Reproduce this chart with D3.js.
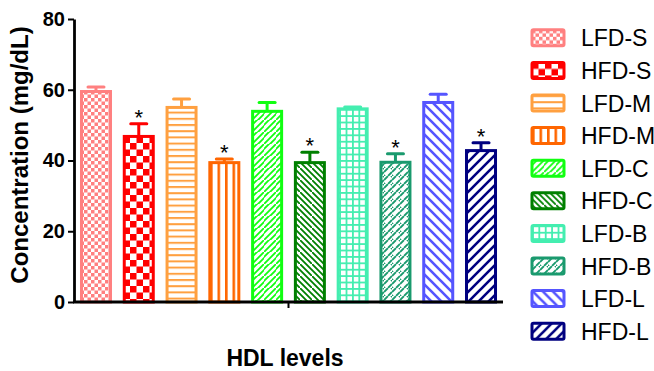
<!DOCTYPE html>
<html>
<head>
<meta charset="utf-8">
<script src="https://cdn.jsdelivr.net/npm/d3@7"></script>
<style>
  body { margin: 0; background: #fff; }
  svg { display: block; font-family: "Liberation Sans", Arial, sans-serif; }
</style>
</head>
<body>
<svg id="chart" width="654" height="371"></svg>
<script>
const groups = ["LFD-S", "HFD-S", "LFD-M", "HFD-M", "LFD-C", "HFD-C", "LFD-B", "HFD-B", "LFD-L", "HFD-L"];
const means = [59.5, 46.8, 55.0, 39.4, 53.9, 39.4, 54.6, 39.5, 56.4, 42.8];
const sems = [1.3, 3.6, 2.4, 1.0, 2.5, 2.9, 0.5, 2.4, 2.3, 2.2];
const starred = [false, true, false, true, false, true, false, true, false, true];
const colors = ["#ff8080", "#ff0000", "#ffa040", "#ff6600", "#11ff11", "#008000", "#44eeb0", "#1a9a6e", "#5555ff", "#000080"];
const yTicks = [0, 20, 40, 60, 80];

const svg = d3.select("#chart");
const margin = { left: 74, right: 151, top: 19, bottom: 69 };
const W = 654, H = 371;

const x = d3.scaleBand()
  .domain(d3.range(groups.length))
  .range([margin.left, W - margin.right])
  .paddingInner(0.252)
  .paddingOuter(0.14);
const y = d3.scaleLinear().domain([0, 80]).range([H - margin.bottom, margin.top]);

// fill patterns, one per group
const defs = svg.append("defs");
function pat(id, w, h, color, draw) {
  const p = defs.append("pattern").attr("id", id)
    .attr("patternUnits", "userSpaceOnUse").attr("width", w).attr("height", h);
  p.append("rect").attr("width", w).attr("height", h).attr("fill", "#fff");
  draw(p, color);
}
const drawers = [
  (p, c) => { p.append("rect").attr("width", 3.5).attr("height", 3.5).attr("fill", c);
              p.append("rect").attr("x", 3.5).attr("y", 3.5).attr("width", 3.5).attr("height", 3.5).attr("fill", c); },
  (p, c) => { p.append("rect").attr("width", 6.5).attr("height", 6.5).attr("fill", c);
              p.append("rect").attr("x", 6.5).attr("y", 6.5).attr("width", 6.5).attr("height", 6.5).attr("fill", c); },
  (p, c) => { p.append("rect").attr("width", 6.2).attr("height", 2).attr("fill", c); },
  (p, c) => { p.append("rect").attr("width", 2.6).attr("height", 7.5).attr("fill", c); },
  (p, c) => { p.append("path").attr("d", "M-1,6 L6,-1 M-1,13 L13,-1 M5,13 L13,5").attr("stroke", c).attr("stroke-width", 1.8); },
  (p, c) => { p.append("path").attr("d", "M-1,-1 L13,13 M5,-1 L13,7 M-1,5 L7,13").attr("stroke", c).attr("stroke-width", 1.8); },
  (p, c) => { p.append("rect").attr("width", 6.4).attr("height", 1.8).attr("fill", c);
              p.append("rect").attr("width", 1.8).attr("height", 6.4).attr("fill", c); },
  (p, c) => { p.append("path").attr("d", "M0,4 L4,0 M4,8 L8,4 M-1,9 L1,7 M7,1 L9,-1").attr("stroke", c).attr("stroke-width", 1.8); },
  (p, c) => { p.append("path").attr("d", "M-1,-1 L11,11 M-1,9 L1,11 M9,-1 L11,1").attr("stroke", c).attr("stroke-width", 2.6); },
  (p, c) => { p.append("path").attr("d", "M-1,11 L11,-1 M-1,1 L1,-1 M9,11 L11,9").attr("stroke", c).attr("stroke-width", 2.6); }
];
const sizes = [[7, 7], [13, 13], [6.2, 6.2], [7.5, 7.5], [12, 12], [12, 12], [6.4, 6.4], [8, 8], [10, 10], [10, 10]];
groups.forEach((g, i) => pat("p" + i, sizes[i][0], sizes[i][1], colors[i], drawers[i]));

// bars
const bars = svg.append("g").selectAll("g").data(groups).join("g");
bars.append("rect")
  .attr("x", (d, i) => x(i) + 1.5)
  .attr("y", (d, i) => y(means[i]))
  .attr("width", x.bandwidth() - 3)
  .attr("height", (d, i) => y(0) - y(means[i]))
  .attr("fill", (d, i) => `url(#p${i})`)
  .attr("stroke", (d, i) => colors[i])
  .attr("stroke-width", 3);

// error bars (upper only)
bars.append("line")
  .attr("x1", (d, i) => x(i) + x.bandwidth() / 2)
  .attr("x2", (d, i) => x(i) + x.bandwidth() / 2)
  .attr("y1", (d, i) => y(means[i]))
  .attr("y2", (d, i) => y(means[i] + sems[i]))
  .attr("stroke", (d, i) => colors[i])
  .attr("stroke-width", 3);
bars.append("line")
  .attr("x1", (d, i) => x(i) + x.bandwidth() / 2 - 8)
  .attr("x2", (d, i) => x(i) + x.bandwidth() / 2 + 8)
  .attr("y1", (d, i) => y(means[i] + sems[i]))
  .attr("y2", (d, i) => y(means[i] + sems[i]))
  .attr("stroke", (d, i) => colors[i])
  .attr("stroke-width", 3)
  .attr("stroke-linecap", "round");

bars.filter((d, i) => starred[i]).append("text")
  .attr("x", d => x(groups.indexOf(d)) + x.bandwidth() / 2)
  .attr("y", d => y(means[groups.indexOf(d)] + sems[groups.indexOf(d)]) + 1)
  .attr("text-anchor", "middle")
  .attr("font-size", 22)
  .text("*");

// axes
const yAxis = svg.append("g")
  .attr("transform", `translate(${margin.left},0)`)
  .call(d3.axisLeft(y).tickValues(yTicks).tickSize(6).tickPadding(3).tickSizeOuter(0));
yAxis.select(".domain").attr("stroke-width", 2.8);
yAxis.selectAll(".tick line").attr("stroke-width", 2);
yAxis.selectAll(".tick text").attr("font-size", 20).attr("font-weight", "bold")
  .attr("font-family", "Liberation Sans, Arial, sans-serif").attr("fill", "#000");

const xAxis = svg.append("g").attr("transform", `translate(0,${y(0)})`);
xAxis.append("line")
  .attr("x1", margin.left - 1).attr("x2", W - margin.right)
  .attr("stroke", "#000").attr("stroke-width", 2.8);
xAxis.append("line")
  .attr("x1", (margin.left + W - margin.right) / 2).attr("x2", (margin.left + W - margin.right) / 2)
  .attr("y1", 0).attr("y2", 6)
  .attr("stroke", "#000").attr("stroke-width", 2);

svg.append("text")
  .attr("x", 285).attr("y", 366)
  .attr("text-anchor", "middle").attr("font-size", 23).attr("font-weight", "bold")
  .text("HDL levels");

svg.append("text")
  .attr("transform", "translate(28,155) rotate(-90)")
  .attr("text-anchor", "middle").attr("font-size", 24).attr("font-weight", "bold")
  .text("Concentration (mg/dL)");

// legend
const legend = svg.append("g").selectAll("g").data(groups).join("g")
  .attr("transform", (d, i) => `translate(532,${29.8 + i * 32.6})`);
legend.append("rect")
  .attr("width", 32).attr("height", 16).attr("rx", 1.5)
  .attr("fill", (d, i) => `url(#p${i})`)
  .attr("stroke", (d, i) => colors[i]).attr("stroke-width", 3);
legend.append("text")
  .attr("x", 49).attr("y", 16.5)
  .attr("font-size", 23)
  .text(d => d);
</script>
</body>
</html>
